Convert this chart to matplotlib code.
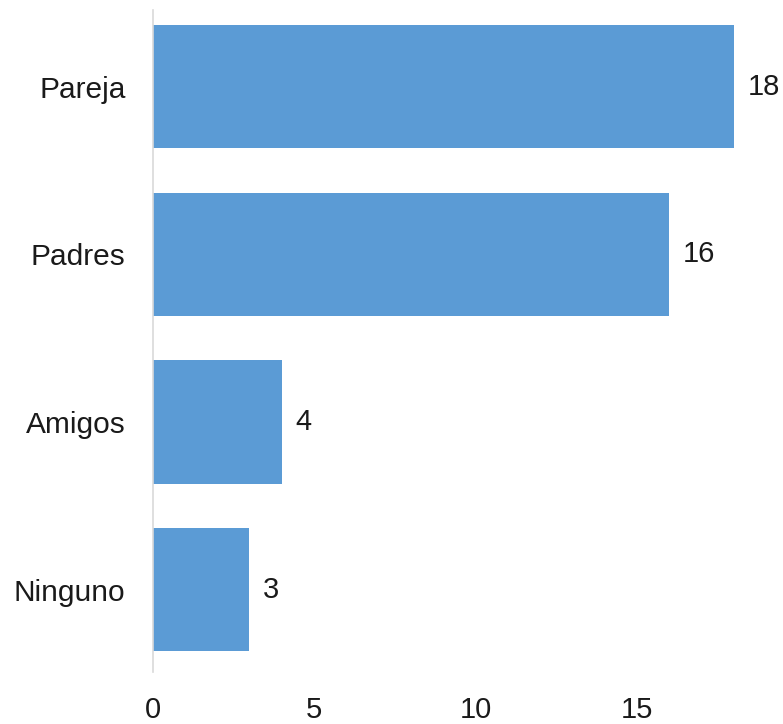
import matplotlib
matplotlib.use("Agg")
import matplotlib.pyplot as plt

categories = ["Pareja", "Padres", "Amigos", "Ninguno"]
values = [18, 16, 4, 3]
xticks = [0, 5, 10, 15]

plt.rcParams['font.family'] = ['Liberation Sans', 'DejaVu Sans']

fig = plt.figure(figsize=(7.83, 7.24), dpi=100)
# axes box in pixels: left 152.5, top 10, bottom 672, right edge of figure
ax = fig.add_axes([152.5 / 783, (724 - 672) / 724, (783 - 152.5) / 783, (672 - 10) / 724])

pos = range(len(categories))
bars = ax.barh(pos, values, height=0.735, color='#5B9BD5')

ax.set_xlim(0, (783 - 152.5) / 32.3)
ax.set_ylim(3.49, -0.456)

ax.set_yticks(list(pos))
ax.set_yticklabels(categories, fontsize=21.5)
ax.set_xticks(xticks)
ax.set_xticklabels([str(t) for t in xticks], fontsize=21)
ax.tick_params(axis='both', length=0, colors='#1a1a1a')
ax.tick_params(axis='y', pad=19.5)
ax.tick_params(axis='x', pad=17.5)

for side in ['top', 'right', 'bottom']:
    ax.spines[side].set_visible(False)
ax.spines['left'].set_color('#d9d9d9')
ax.spines['left'].set_linewidth(1.2)

for b, v in zip(bars, values):
    ax.annotate(str(v), (v, b.get_y() + b.get_height() / 2),
                xytext=(10, 0), textcoords='offset points',
                va='center', ha='left', fontsize=21, color='#1a1a1a')

fig.savefig('out.png', dpi=100)
